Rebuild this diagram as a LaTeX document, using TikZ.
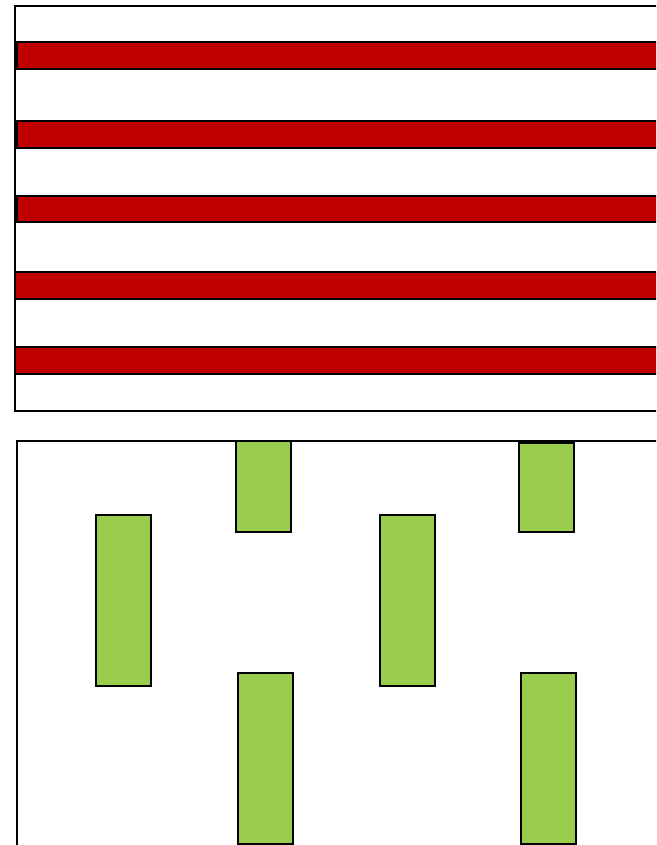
\documentclass[tikz,border=0pt]{standalone}
\definecolor{barred}{HTML}{C00000}
\definecolor{boxgreen}{HTML}{9ACD4E}
\begin{document}
\begin{tikzpicture}[x=1pt,y=-1pt,
  frame/.style={draw=black,line width=2pt},
  redbar/.style={fill=barred,draw=black,line width=2pt},
  greenbox/.style={fill=boxgreen,draw=black,line width=2pt}]
\useasboundingbox (0,0) rectangle (656,845);
\begin{scope}
\clip (0,0) rectangle (656,845);
% top frame
\draw[frame] (15,6) rectangle (700,411);
\draw[redbar] (17,42) rectangle (700,69);
\draw[redbar] (17,121) rectangle (700,148);
\draw[redbar] (17,196) rectangle (700,222);
\draw[redbar] (15,272) rectangle (700,299);
\draw[redbar] (15,347) rectangle (700,374);
% bottom frame
\draw[frame] (17,900) -- (17,441) -- (700,441);
\draw[greenbox] (236,441) rectangle (291,532);
\draw[greenbox] (519,443) rectangle (574,532);
\draw[greenbox] (96,515) rectangle (151,686);
\draw[greenbox] (380,515) rectangle (435,686);
\draw[greenbox] (238,673) rectangle (293,844);
\draw[greenbox] (521,673) rectangle (576,844);
\end{scope}
\end{tikzpicture}
\end{document}
